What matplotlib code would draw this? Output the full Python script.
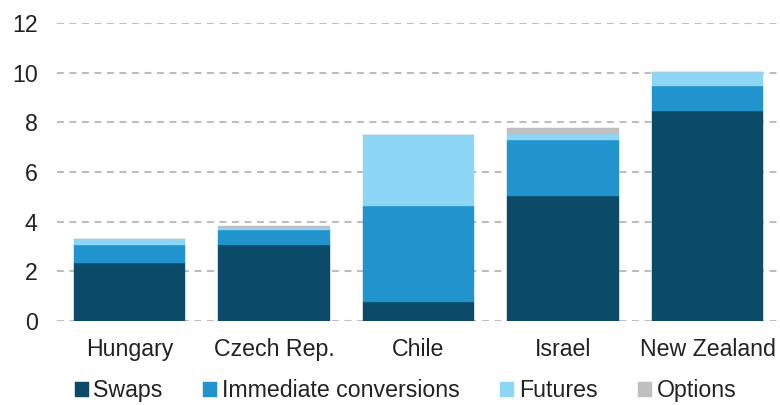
import matplotlib
matplotlib.use("Agg")
import matplotlib.pyplot as plt
import numpy as np

categories = ["Hungary", "Czech Rep.", "Chile", "Israel", "New Zealand"]
swaps = [2.35, 3.07, 0.78, 5.05, 8.47]
immediate = [0.71, 0.61, 3.85, 2.25, 0.99]
futures = [0.23, 0.08, 2.86, 0.24, 0.55]
options = [0.03, 0.08, 0.0, 0.24, 0.02]
series_names = ["Swaps", "Immediate conversions", "Futures", "Options"]
colors = ["#0b4a68", "#2193cd", "#8dd6f5", "#bfbfbf"]
yticks = [0, 2, 4, 6, 8, 10, 12]

plt.rcParams['font.family'] = ['Liberation Sans', 'DejaVu Sans']

fig = plt.figure(figsize=(7.8, 4.05), dpi=100)
ax = fig.add_axes([0.0731, 0.2074, 0.9269, 0.7358])

x = np.arange(len(categories))
bottom = np.zeros(len(categories))
handles = []
for vals, name, c in zip([swaps, immediate, futures, options], series_names, colors):
    b = ax.bar(x, vals, 0.77, bottom=bottom, color=c, label=name,
               edgecolor=c, linewidth=0.3, zorder=3)
    handles.append(b)
    bottom += np.array(vals)

ax.set_xlim(-0.5, 4.5)
ax.set_ylim(0, 12)
ax.set_yticks(yticks)
ax.set_xticks(x)
ax.set_xticklabels(categories)
for s in ax.spines.values():
    s.set_visible(False)
ax.tick_params(axis='both', length=0, labelsize=16.7, colors='#222222')
ax.tick_params(axis='y', pad=14)
ax.tick_params(axis='x', pad=12)
ax.yaxis.grid(True, color='#bdbdbd', linewidth=1.5, linestyle=(0, (3.3, 2.7)), zorder=0)
ax.set_axisbelow(True)

leg = fig.legend(handles=handles, labels=series_names, loc='lower center',
                 bbox_to_anchor=(0.52, -0.045), ncol=4, frameon=False, fontsize=16.7,
                 handlelength=0.6, handleheight=0.6, handletextpad=0.2,
                 columnspacing=1.75, labelcolor='#222222')

fig.savefig("out.png", dpi=100)
